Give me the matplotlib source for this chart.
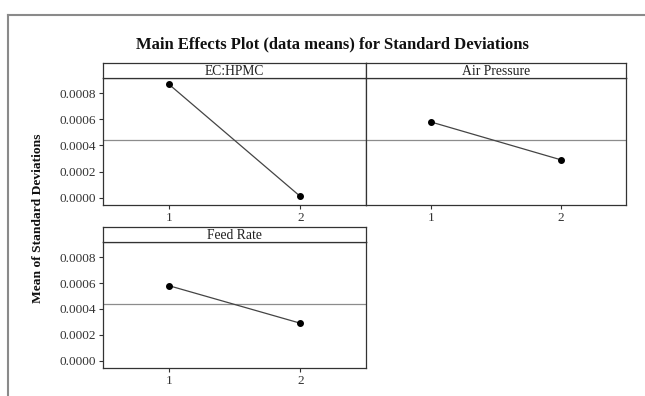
import matplotlib
matplotlib.use("Agg")
import matplotlib.pyplot as plt

# --- data ---
factors = ["EC:HPMC", "Air Pressure", "Feed Rate"]
levels = [1, 2]
means = [
    [0.00087, 0.00001],   # EC:HPMC
    [0.00058, 0.00029],   # Air Pressure
    [0.00058, 0.00029],   # Feed Rate
]
grand_mean = 0.00044
yticks = [0.0000, 0.0002, 0.0004, 0.0006, 0.0008]

plt.rcParams["font.family"] = ["Liberation Serif", "DejaVu Serif"]

W, H = 645, 396
fig = plt.figure(figsize=(W / 100, H / 100), dpi=100)


def box(x0, y0, x1, y1):
    # pixel box (top-left origin) -> figure fraction
    return [x0 / W, 1 - y1 / H, (x1 - x0) / W, (y1 - y0) / H]


# outer frame (only top and left edges are visible in the reference)
fig.add_artist(plt.Line2D([8 / W, 1], [1 - 15 / H, 1 - 15 / H], color="#8a8a8a", lw=1.5))
fig.add_artist(plt.Line2D([8 / W, 8 / W], [0, 1 - 15 / H], color="#8a8a8a", lw=1.5))

# panel positions in pixels: (left, right, strip top, strip bottom, axes bottom)
panels = [
    (103, 366, 63, 78, 205),
    (366, 626, 63, 78, 205),
    (103, 366, 227, 242, 368),
]

line_col = "#444444"
for i, (name, vals, (x0, x1, st, sb, ab)) in enumerate(zip(factors, means, panels)):
    ax = fig.add_axes(box(x0, sb, x1, ab))
    ax.axhline(grand_mean, color="#8c8c8c", lw=0.9, zorder=1)
    ax.plot(levels, vals, color=line_col, lw=0.9, zorder=2)
    ax.plot(levels, vals, "o", color="black", ms=4, zorder=3)
    ax.set_xlim(0.5, 2.5)
    ax.set_ylim(-0.000056, 0.000917)
    ax.set_xticks(levels)
    ax.set_yticks(yticks)
    ax.set_yticklabels([f"{v:.4f}" for v in yticks])
    ax.tick_params(direction="out", length=3, width=0.8, colors="#333333",
                   labelsize=9.5, pad=2)
    if i == 1:
        ax.tick_params(axis="y", left=False, labelleft=False)
    for s in ax.spines.values():
        s.set_color("#333333")
        s.set_linewidth(0.9)

    # strip with the factor name
    sax = fig.add_axes(box(x0, st, x1, sb))
    sax.set_xticks([])
    sax.set_yticks([])
    for s in sax.spines.values():
        s.set_color("#333333")
        s.set_linewidth(0.9)
    sax.text(0.5, 0.45, name, ha="center", va="center", fontsize=9.8,
             color="#222222", transform=sax.transAxes)

fig.text(332 / W, 1 - 44 / H, "Main Effects Plot (data means) for Standard Deviations",
         ha="center", va="center", fontsize=12, fontweight="bold", color="#111111")
fig.text(38 / W, 1 - 218 / H, "Mean of Standard Deviations", rotation=90,
         ha="center", va="center", fontsize=9.7, fontweight="bold", color="#111111")

fig.savefig("out.png", dpi=100)
